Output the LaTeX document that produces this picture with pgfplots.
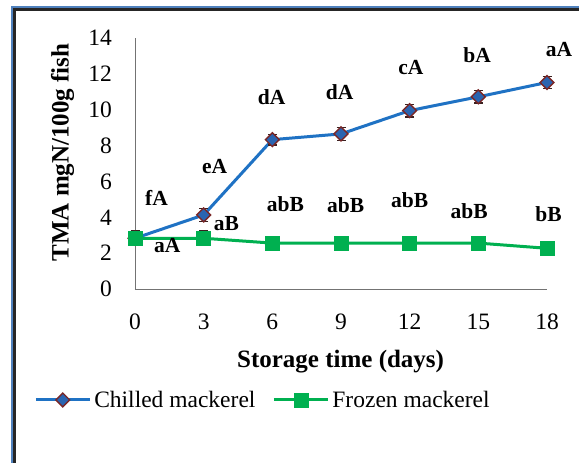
\documentclass[border=0pt]{standalone}
\usepackage{pgfplots}
\pgfplotsset{compat=1.18}
\usepackage{fontspec}
\setmainfont{Liberation Serif}
\definecolor{frameblue}{HTML}{4F81BD}
\definecolor{chilled}{HTML}{1F72C4}
\definecolor{diafill}{HTML}{2A64B0}
\definecolor{diaedge}{HTML}{7A2626}
\definecolor{frozen}{HTML}{00B050}
\definecolor{errc}{HTML}{3A2020}
\newcommand\tickfont{\fontsize{23.5}{26}\selectfont}
\newcommand\labfont{\fontsize{25}{28}\selectfont\bfseries}
\newcommand\annfont{\fontsize{21.5}{24}\selectfont\bfseries}
\begin{document}
\begin{tikzpicture}[x=1pt,y=1pt]
\useasboundingbox (0,0) rectangle (579,463);
\fill[white] (0,0) rectangle (579,463);
\draw[frameblue, line width=2.3pt] (12.2,-5) -- (12.2,455.8) -- (590,455.8);
\draw[black!85, line width=2.3pt] (14.5,-5) -- (14.5,453.5) -- (590,453.5);
\begin{axis}[
  at={(135pt,174pt)}, anchor=south west,
  scale only axis, width=412pt, height=251pt,
  xmin=0, xmax=18, ymin=0, ymax=14,
  clip=false,
  axis x line*=bottom, axis y line*=left,
  axis line style={-, black!55, line width=0.9pt},
  xtick={0,3,6,9,12,15,18}, ytick={0,2,4,6,8,10,12,14},
  major tick length=0pt,
  /pgf/number format/assume math mode=true,
  tick label style={font=\tickfont},
  xticklabel style={anchor=center, yshift=-33pt},
  yticklabel style={anchor=east, inner sep=0pt, xshift=-23pt},
  every axis x label/.style={at={(axis description cs:0.499,-0.291)}, anchor=center, font=\labfont},
  every axis y label/.style={at={(axis description cs:-0.176,0.544)}, rotate=90, anchor=center, font=\labfont},
  xlabel={Storage time (days)},
  ylabel={TMA  mgN/100g fish},
  legend style={draw=none, fill=none, at={(axis description cs:-0.245,-0.442)}, anchor=west,
    font=\tickfont, inner sep=0pt, nodes={inner sep=3pt},
    /tikz/every even column/.append style={column sep=14pt}},
  legend columns=2,
  legend image code/.code={\draw[mark repeat=2,mark phase=2,#1] plot coordinates {(0pt,0pt) (27pt,0pt) (54pt,0pt)};},
]
\addplot[chilled, line width=3pt, mark=square*, mark size=4.9pt,
  mark options={rotate=45, fill=diafill, draw=diaedge, line width=1.4pt, solid},
  error bars/.cd, y dir=both, y explicit,
  error bar style={errc, line width=1.3pt},
  error mark options={errc, line width=1.3pt, mark size=4.5pt, rotate=90}]
  coordinates {
  (0,2.83) +- (0,0.30)
  (3,4.13) +- (0,0.35)
  (6,8.33) +- (0,0.30)
  (9,8.65) +- (0,0.35)
  (12,9.95) +- (0,0.35)
  (15,10.72) +- (0,0.35)
  (18,11.52) +- (0,0.35)
  };
\addlegendentry{Chilled mackerel}
\addplot[frozen, line width=3pt, mark=square*, mark size=7pt,
  mark options={fill=frozen, draw=frozen, line width=0.5pt, solid},
  error bars/.cd, y dir=both, y explicit,
  error bar style={errc, line width=1.3pt},
  error mark options={errc, line width=1.3pt, mark size=4.5pt, rotate=90}]
  coordinates {
  (0,2.83) +- (0,0.42)
  (3,2.83) +- (0,0.42)
  (6,2.56) +- (0,0.20)
  (9,2.56) +- (0,0.20)
  (12,2.56) +- (0,0.20)
  (15,2.56) +- (0,0.20)
  (18,2.27) +- (0,0.20)
  };
\addlegendentry{Frozen mackerel}
\node[font=\annfont] at (axis cs:0.94,5.1) {fA};
\node[font=\annfont] at (axis cs:3.48,6.83) {eA};
\node[font=\annfont] at (axis cs:5.97,10.7) {dA};
\node[font=\annfont] at (axis cs:8.94,10.97) {dA};
\node[font=\annfont] at (axis cs:12.05,12.34) {cA};
\node[font=\annfont] at (axis cs:14.95,13.05) {bA};
\node[font=\annfont] at (axis cs:18.53,13.36) {aA};
\node[font=\annfont] at (axis cs:1.41,2.40) {aA};
\node[font=\annfont] at (axis cs:3.99,3.65) {aB};
\node[font=\annfont] at (axis cs:6.57,4.71) {abB};
\node[font=\annfont] at (axis cs:9.2,4.65) {abB};
\node[font=\annfont] at (axis cs:12.0,4.96) {abB};
\node[font=\annfont] at (axis cs:14.6,4.33) {abB};
\node[font=\annfont] at (axis cs:18.07,4.19) {bB};
\end{axis}
\end{tikzpicture}
\end{document}
